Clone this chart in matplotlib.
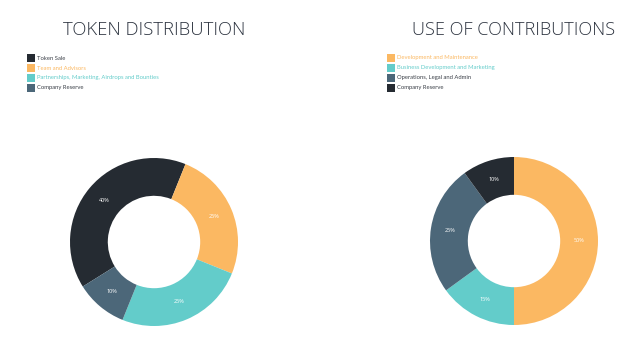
import matplotlib
matplotlib.use("Agg")
import matplotlib.pyplot as plt
from matplotlib.patches import Rectangle

plt.rcParams["font.family"] = ["Open Sans", "DejaVu Sans"]

DARK = "#252b32"
ORANGE = "#fbb862"
TEAL = "#63ccca"
SLATE = "#4c6779"
TEXT = "#3a3f47"

token_labels = ["Token Sale", "Team and Advisors",
                "Partnerships, Marketing, Airdrops and Bounties", "Company Reserve"]
token_values = [40, 25, 25, 10]
token_colors = [DARK, ORANGE, TEAL, SLATE]
token_text = [TEXT, ORANGE, TEAL, TEXT]

use_labels = ["Development and Maintenance", "Business Development and Marketing",
              "Operations, Legal and Admin", "Company Reserve"]
use_values = [50, 15, 25, 10]
use_colors = [ORANGE, TEAL, SLATE, DARK]
use_text = [ORANGE, TEAL, TEXT, TEXT]

W, H = 640, 344
fig = plt.figure(figsize=(W / 100, H / 100), dpi=100)


def donut(cx, cy, r, values, colors, start):
    ax = fig.add_axes([(cx - r) / W, 1 - (cy + r) / H, 2 * r / W, 2 * r / H])
    ax.pie(values, colors=colors, startangle=start, counterclock=False,
           radius=1.0, wedgeprops=dict(width=0.45, edgecolor="none"),
           labels=[f"{v}%" for v in values], labeldistance=0.775,
           textprops=dict(color="white", fontsize=4, ha="center", va="center"))
    ax.set_xlim(-1, 1)
    ax.set_ylim(-1, 1)
    ax.set_aspect("equal")
    ax.axis("off")
    return ax


def legend(x, y, labels, colors, text_colors):
    # hand-drawn legend: 8px squares, 10px rows
    for i, (lab, c, tc) in enumerate(zip(labels, colors, text_colors)):
        yc = y + 10 * i
        fig.patches.append(Rectangle((x / W, 1 - (yc + 4) / H), 8 / W, 8 / H,
                                     transform=fig.transFigure, facecolor=c,
                                     edgecolor="none"))
        fig.text((x + 10) / W, 1 - yc / H, lab, ha="left", va="center",
                 family=["Lato", "DejaVu Sans"], fontsize=4.2, color=tc)


donut(154, 242, 84, token_values, token_colors, 90 - 238)
donut(514, 241, 84, use_values, use_colors, 90)

fig.text(154 / W, 1 - 30 / H, "TOKEN DISTRIBUTION", ha="center", va="center",
         fontsize=13.3, color="#2d3440", fontweight="light")
fig.text(514 / W, 1 - 30 / H, "USE OF CONTRIBUTIONS", ha="center", va="center",
         fontsize=13.1, color="#2d3440", fontweight="light")

legend(27, 58, token_labels, token_colors, token_text)
legend(387, 58, use_labels, use_colors, use_text)

fig.savefig("out.png", dpi=100, facecolor="white")
